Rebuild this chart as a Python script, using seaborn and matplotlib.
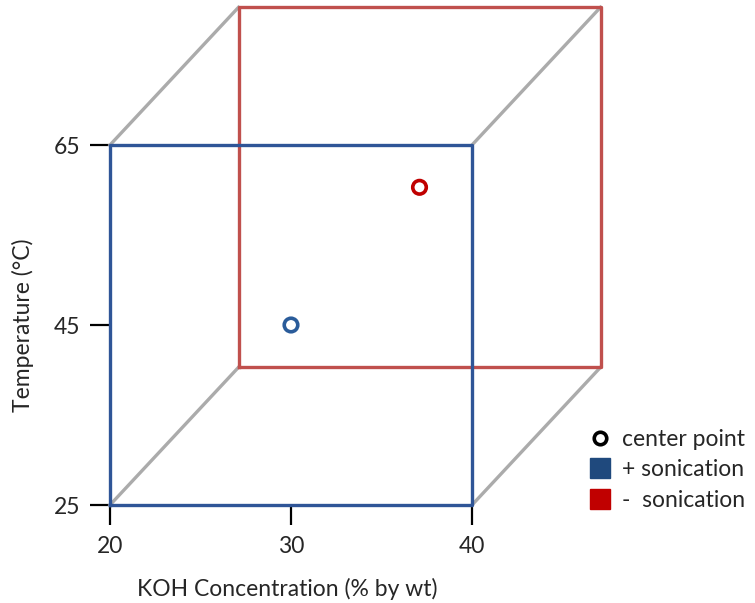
import matplotlib
matplotlib.use("Agg")
import matplotlib.pyplot as plt
import seaborn as sns
import pandas as pd
from matplotlib.lines import Line2D

# ---- data ----
koh_ticks = [20, 30, 40]
temp_ticks = [25, 45, 65]
plus_x = [20, 40, 40, 20, 20]          # + sonication face (front)
plus_y = [25, 25, 65, 65, 25]
minus_x = [27.1, 47.1, 47.1, 27.1, 27.1]  # - sonication face (back, drawn in perspective)
minus_y = [40.3, 40.3, 80.3, 80.3, 40.3]
edge_start_x = [20, 40, 40, 20]
edge_start_y = [65, 65, 25, 25]
edge_end_x = [27.1, 47.1, 47.1, 27.1]
edge_end_y = [80.3, 80.3, 40.3, 40.3]
center_x = [30, 37.1]
center_y = [45, 60.3]
center_group = ["+ sonication", "- sonication"]

sns.set_style("white")
plt.rcParams["font.family"] = ["Lato", "DejaVu Sans"]

BLUE = "#2F5597"
RED = "#C0504D"
GRAY = "#ABABAB"
FS = 16.5

fig = plt.figure(figsize=(7.55, 6.03), dpi=100)
ax = fig.add_axes([110/755, 98/603, 362/755, 360/603])
ax.set_xlim(20, 40)
ax.set_ylim(25, 65)

# gray cube edges
for i in range(len(edge_start_x)):
    df_e = pd.DataFrame({"x": [edge_start_x[i], edge_end_x[i]], "y": [edge_start_y[i], edge_end_y[i]]})
    sns.lineplot(data=df_e, x="x", y="y", sort=False, estimator=None, color=GRAY, lw=2.4, ax=ax, zorder=1)
# back face
df_m = pd.DataFrame({"x": minus_x, "y": minus_y})
sns.lineplot(data=df_m, x="x", y="y", sort=False, estimator=None, color=RED, lw=2.4, ax=ax, zorder=2)
# front face
df_p = pd.DataFrame({"x": plus_x, "y": plus_y})
sns.lineplot(data=df_p, x="x", y="y", sort=False, estimator=None, color=BLUE, lw=2.4, ax=ax, zorder=3)

for line in ax.lines:
    line.set_clip_on(False)
    line.set_solid_capstyle("projecting")

df_c = pd.DataFrame({"x": center_x, "y": center_y, "g": center_group})
sns.scatterplot(data=df_c, x="x", y="y", hue="g",
                palette={"+ sonication": "#2A5C9A", "- sonication": "#C00000"},
                ax=ax, s=95, marker="o", legend=False, zorder=4, clip_on=False)
coll = ax.collections[-1]
coll.set_facecolor("white")
coll.set_edgecolor(["#2A5C9A", "#C00000"])
coll.set_linewidth(2.6)

for s in ax.spines.values():
    s.set_visible(False)
ax.set_xticks(koh_ticks)
ax.set_yticks(temp_ticks)
ax.tick_params(axis="both", direction="out", length=14.5, width=1.6, color="black",
               labelsize=FS, bottom=True, left=True)
ax.tick_params(axis="x", pad=8)
ax.tick_params(axis="y", pad=7)
ax.set_xlabel("KOH Concentration (% by wt)", fontsize=FS)
ax.set_ylabel("Temperature (°C)", fontsize=FS)
ax.xaxis.set_label_coords(0.49, -(589 - 505) / 360, transform=ax.transAxes)
ax.xaxis.label.set_va("center")
ax.yaxis.set_label_coords(-(110 - 23) / 362, 0.5, transform=ax.transAxes)
ax.yaxis.label.set_va("center")

handles = [
    Line2D([], [], marker="o", ls="none", markerfacecolor="white", markeredgecolor="black",
           markeredgewidth=2.6, markersize=9),
    Line2D([], [], marker="s", ls="none", color="#1F497D", markersize=15),
    Line2D([], [], marker="s", ls="none", color="#C00000", markersize=15),
]
labels = ["center point", "+ sonication", "-  sonication"]
fig.legend(handles, labels, loc="center left", bbox_to_anchor=(589/755, 1 - 470/603),
           frameon=False, fontsize=FS, handlelength=1.0, handletextpad=0.45,
           labelspacing=0.4, borderpad=0, borderaxespad=0)

fig.savefig("out.png", dpi=100)
